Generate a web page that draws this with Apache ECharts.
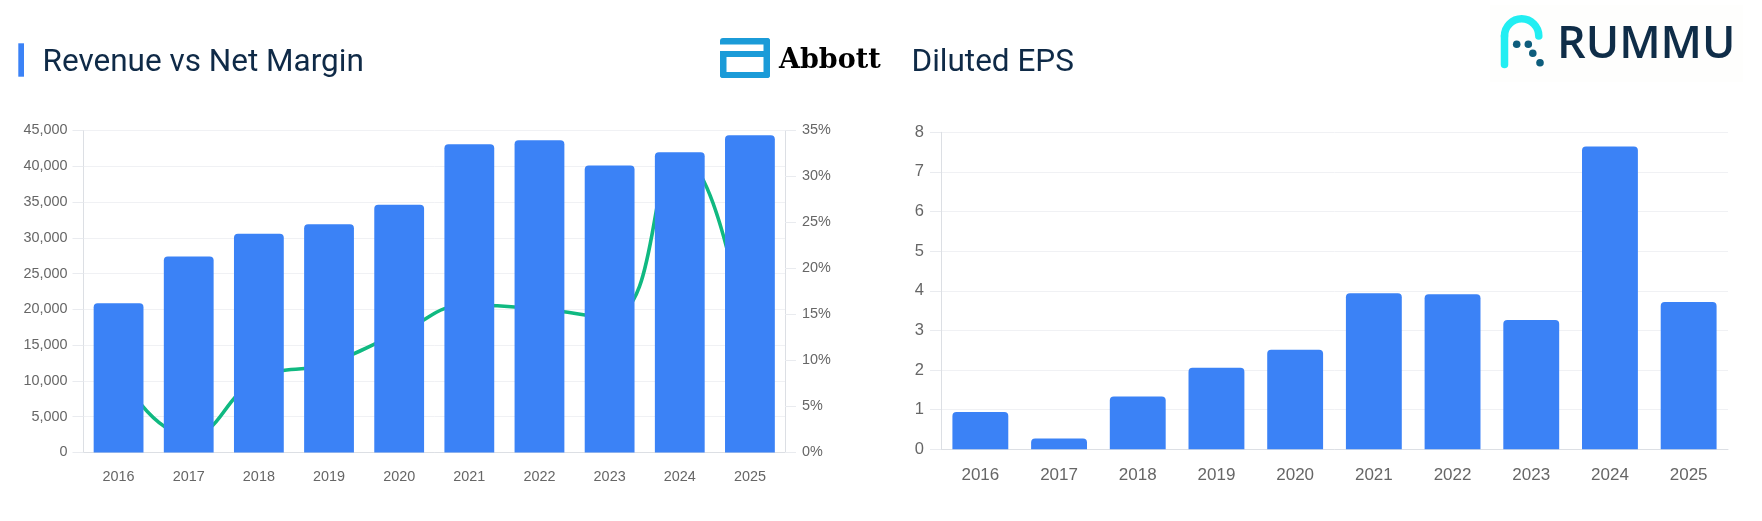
<!DOCTYPE html>
<html><head><meta charset="utf-8">
<script src="https://cdn.jsdelivr.net/npm/echarts@6/dist/echarts.min.js"></script>
<style>html,body{margin:0;padding:0;background:#fff;}#c{width:1762px;height:521px;}</style>
</head><body><div id="c"></div>
<script>
// ---- data ----
const years = ['2016','2017','2018','2019','2020','2021','2022','2023','2024','2025'];
const revenue = [20853, 27390, 30578, 31904, 34608, 43075, 43653, 40109, 41950, 44330];
const netMarginPct = [8.8, 1.9, 8.0, 9.7, 13.0, 16.0, 15.6, 14.7, 32.2, 10.0];
const dilutedEps = [0.94, 0.27, 1.33, 2.06, 2.51, 3.94, 3.91, 3.26, 7.64, 3.72];
const revenueAxis = {min: 0, max: 45000, step: 5000};
const marginAxis = {min: 0, max: 35, step: 5};
const epsAxis = {min: 0, max: 8, step: 1};
const titles = ['Revenue vs Net Margin', 'Diluted EPS'];

const chart = echarts.init(document.getElementById('c'), null, {renderer: 'canvas'});
const labelFont = 'Liberation Sans, Arial, sans-serif';
const gridColor = '#f0f1f4';
const axisColor = '#dcdfe4';
const tickColor = '#e9ebef';
const BLUE = '#3b82f6';
const ABBOTT = '#1b9bd8';
const DOT = '#0e5d7c';

function yAxisBase(extra) {
  return Object.assign({
    type: 'value',
    axisLine: {show: true, lineStyle: {color: axisColor}},
    axisTick: {show: true, length: 11, lineStyle: {color: tickColor}},
    splitLine: {show: true, lineStyle: {color: gridColor}},
    axisLabel: {color: '#666', fontFamily: labelFont, fontSize: 14.4, margin: 16}
  }, extra);
}

const option = {
  animation: false,
  backgroundColor: '#fff',
  grid: [
    {left: 83.5, top: 130.5, width: 701.5, height: 322},
    {left: 941, top: 132.3, width: 787, height: 317}
  ],
  xAxis: [
    {type: 'category', gridIndex: 0, data: years,
     axisLine: {show: true, lineStyle: {color: axisColor}}, axisTick: {show: false},
     axisLabel: {color: '#666', fontFamily: labelFont, fontSize: 14.4, margin: 18}},
    {type: 'category', gridIndex: 1, data: years,
     axisLine: {show: true, lineStyle: {color: axisColor}}, axisTick: {show: false},
     axisLabel: {color: '#666', fontFamily: labelFont, fontSize: 17, margin: 18}}
  ],
  yAxis: [
    yAxisBase({gridIndex: 0, min: revenueAxis.min, max: revenueAxis.max, interval: revenueAxis.step,
      axisLabel: {color: '#666', fontFamily: labelFont, fontSize: 14.4, margin: 16,
        formatter: v => v.toLocaleString('en-US')}}),
    yAxisBase({gridIndex: 0, position: 'right', min: marginAxis.min, max: marginAxis.max, interval: marginAxis.step,
      splitLine: {show: false},
      axisLabel: {color: '#666', fontFamily: labelFont, fontSize: 14.4, margin: 17, formatter: '{value}%'}}),
    yAxisBase({gridIndex: 1, min: epsAxis.min, max: epsAxis.max, interval: epsAxis.step,
      axisLabel: {color: '#666', fontFamily: labelFont, fontSize: 16.5, margin: 17}})
  ],
  series: [
    {type: 'line', name: 'Net Margin', xAxisIndex: 0, yAxisIndex: 1, data: netMarginPct,
     smooth: true, showSymbol: false, z: 1,
     lineStyle: {color: '#10b981', width: 3.6}},
    {type: 'bar', name: 'Revenue', xAxisIndex: 0, yAxisIndex: 0, data: revenue,
     barWidth: '71%', z: 2, itemStyle: {color: BLUE, borderRadius: [4, 4, 0, 0]}},
    {type: 'bar', name: 'Diluted EPS', xAxisIndex: 1, yAxisIndex: 2, data: dilutedEps,
     barWidth: '71%', z: 2, itemStyle: {color: BLUE, borderRadius: [4, 4, 0, 0]}}
  ],
  graphic: [
    {type: 'rect', shape: {x: 18.3, y: 43.3, width: 5.7, height: 33.4}, style: {fill: BLUE}},
    {type: 'text', x: 42.5, y: 63, style: {text: titles[0], fill: '#0f2a47',
      font: '400 31.5px Roboto, sans-serif', textAlign: 'left', verticalAlign: 'middle'}},
    {type: 'text', x: 911.5, y: 63, style: {text: titles[1], fill: '#0f2a47',
      font: '400 31.5px Roboto, sans-serif', textAlign: 'left', verticalAlign: 'middle'}},
    // Abbott logo
    {type: 'rect', shape: {x: 720, y: 38, width: 50, height: 6.5, r: [3, 3, 0, 0]}, style: {fill: ABBOTT}},
    {type: 'rect', shape: {x: 763.5, y: 38, width: 6.5, height: 40, r: [0, 3, 3, 0]}, style: {fill: ABBOTT}},
    {type: 'rect', shape: {x: 720, y: 51, width: 46, height: 6}, style: {fill: ABBOTT}},
    {type: 'rect', shape: {x: 720, y: 51, width: 6.5, height: 27, r: [0, 0, 0, 3]}, style: {fill: ABBOTT}},
    {type: 'rect', shape: {x: 720, y: 72, width: 50, height: 6, r: [0, 0, 3, 3]}, style: {fill: ABBOTT}},
    {type: 'text', x: 779, y: 61, style: {text: 'Abbott', fill: '#000',
      font: 'bold 27px "DejaVu Serif", serif', textAlign: 'left', verticalAlign: 'middle'}},
    // RUMMU logo
    {type: 'rect', shape: {x: 1490, y: 5, width: 253, height: 77}, style: {fill: '#fefefd'}},
    {type: 'line', shape: {x1: 1504.5, y1: 64.5, x2: 1504.5, y2: 36},
     style: {stroke: '#22eef2', lineWidth: 7.5, lineCap: 'round'}},
    {type: 'arc', shape: {cx: 1521.65, cy: 36, r: 17.15, startAngle: Math.PI, endAngle: 2 * Math.PI, clockwise: true},
     style: {stroke: '#22eef2', lineWidth: 7.5, lineCap: 'round', fill: null}},
    {type: 'circle', shape: {cx: 1516.7, cy: 44.3, r: 3.8}, style: {fill: DOT}},
    {type: 'circle', shape: {cx: 1528.3, cy: 44.3, r: 3.8}, style: {fill: DOT}},
    {type: 'circle', shape: {cx: 1532.8, cy: 53.3, r: 3.8}, style: {fill: DOT}},
    {type: 'circle', shape: {cx: 1540, cy: 62.7, r: 3.8}, style: {fill: DOT}},
    {type: 'text', x: 1557, y: 45, style: {text: 'RUMMU', fill: '#0f2d48',
      font: '600 45px "Open Sans", sans-serif', textAlign: 'left', verticalAlign: 'middle'}}
  ]
};
chart.setOption(option);
</script>
</body></html>
